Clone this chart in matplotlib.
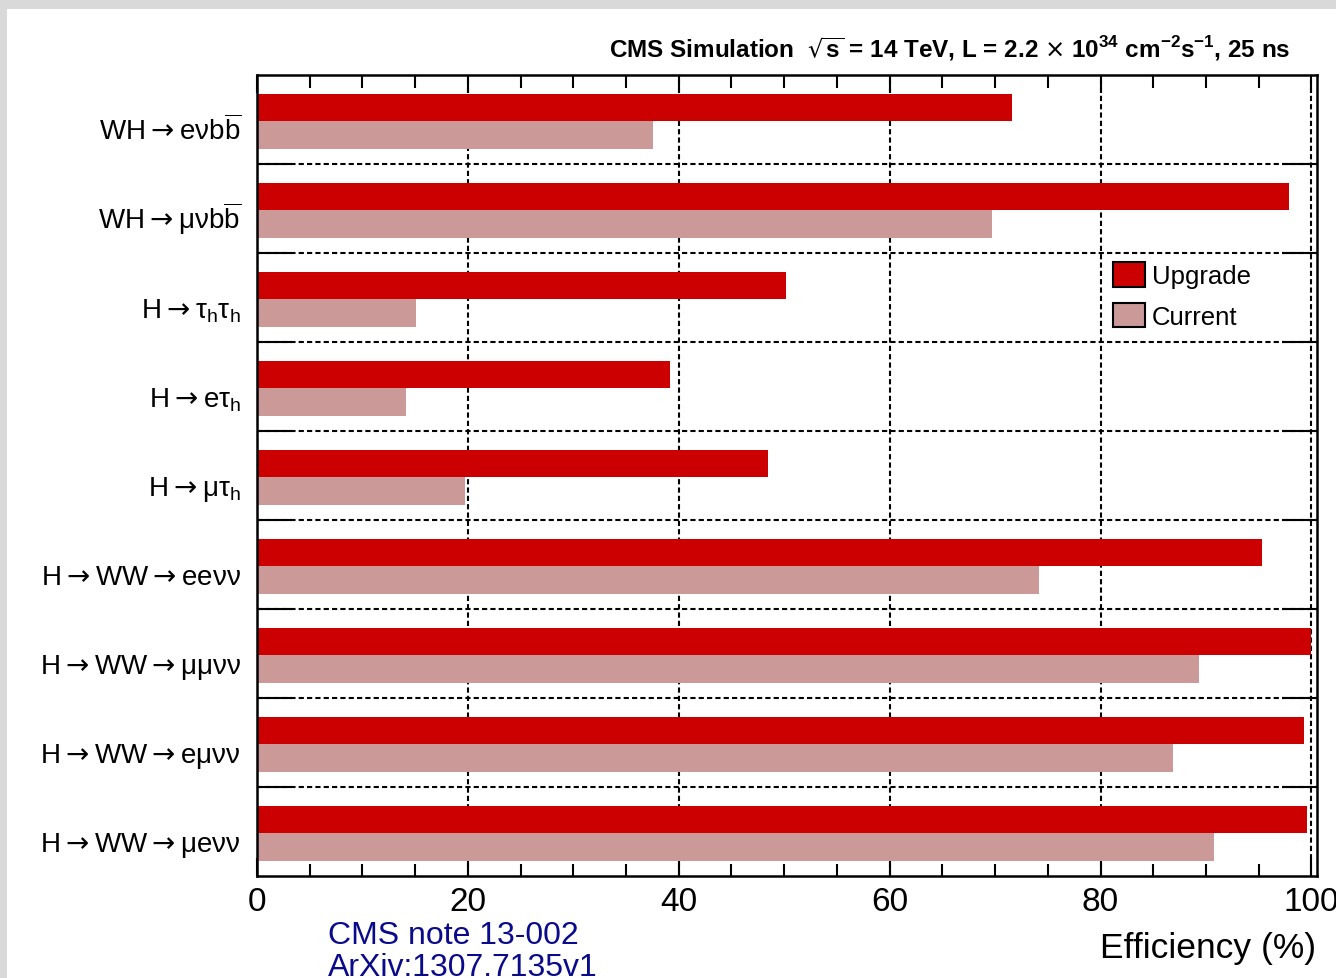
import matplotlib
matplotlib.use("Agg")
import matplotlib.pyplot as plt
from matplotlib.patches import Patch, Rectangle

plt.rcParams["font.family"] = ["Liberation Sans", "DejaVu Sans"]
plt.rcParams["mathtext.fontset"] = "dejavusans"

# decay channels, top to bottom
channels = [
    r"WH$\rightarrow$eνb$\overline{\mathregular{b}}$",
    r"WH$\rightarrow$μνb$\overline{\mathregular{b}}$",
    r"H$\rightarrow$τ$_{\mathregular{h}}$τ$_{\mathregular{h}}$",
    r"H$\rightarrow$eτ$_{\mathregular{h}}$",
    r"H$\rightarrow$μτ$_{\mathregular{h}}$",
    r"H$\rightarrow$WW$\rightarrow$eeνν",
    r"H$\rightarrow$WW$\rightarrow$μμνν",
    r"H$\rightarrow$WW$\rightarrow$eμνν",
    r"H$\rightarrow$WW$\rightarrow$μeνν",
]
# trigger efficiency in %
upgrade = [71.6, 97.9, 50.2, 39.2, 48.5, 95.3, 100.0, 99.3, 99.6]
current = [37.6, 69.7, 15.1, 14.1, 19.7, 74.2, 89.3, 86.9, 90.8]
xticks = [0, 20, 40, 60, 80, 100]

C_UP = "#cc0000"
C_CUR = "#cc9999"

W, H = 1336, 979
fig = plt.figure(figsize=(W / 100, H / 100), dpi=100)
fig.patch.set_facecolor("#d9d9d9")
fig.add_artist(Rectangle((7 / W, 0), 1, 1 - 10 / H, transform=fig.transFigure,
                         facecolor="white", edgecolor="none", zorder=0))

ax = fig.add_axes([257 / W, 1 - 877 / H, (1316.7 - 257) / W, (877 - 76) / H])

rows = list(range(len(channels)))
bh = 0.31
ax.barh([r + 0.365 for r in rows], upgrade, height=bh, color=C_UP, linewidth=0, zorder=2)
ax.barh([r + 0.675 for r in rows], current, height=bh, color=C_CUR, linewidth=0, zorder=2)

ax.set_xlim(0, 100.5)
ax.set_ylim(len(channels), 0)

# separators between channels + vertical grid
dash = (0, (2.5, 1.5))
ax.set_yticks(range(1, len(channels)))
ax.set_xticks(xticks)
ax.set_xticks(range(0, 101, 5), minor=True)
ax.set_axisbelow(True)
ax.grid(True, axis="both", which="major", color="black", lw=1.5, ls=dash)

ax.tick_params(axis="y", direction="in", length=25, width=1.5, left=True, right=True,
               labelleft=False)
ax.tick_params(axis="x", which="major", direction="in", length=13, width=1.5,
               top=True, labelsize=24, pad=7)
ax.tick_params(axis="x", which="minor", direction="in", length=9, width=1.5, top=True)
for s in ax.spines.values():
    s.set_linewidth(1.8)

for r, name in zip(rows, channels):
    ax.text(-0.015, r + 0.72, name, transform=ax.get_yaxis_transform(),
            ha="right", va="baseline", fontsize=20)

leg = ax.legend(handles=[Patch(facecolor=C_UP, edgecolor="black", lw=1.5),
                         Patch(facecolor=C_CUR, edgecolor="black", lw=1.5)],
                labels=["Upgrade", "Current"], loc="upper left",
                bbox_to_anchor=(0.808, 0.766), frameon=False, fontsize=18.5,
                borderpad=0, borderaxespad=0, handlelength=1.25, handleheight=1.09,
                handletextpad=0.25, labelspacing=0.55)

fig.text(1290 / W, 1 - 57 / H,
         r"CMS Simulation  $\sqrt{\mathregular{s}}$ = 14 TeV, L = 2.2 $\times$ 10$^{\mathregular{34}}$ "
         r"cm$^{\mathregular{-2}}$s$^{\mathregular{-1}}$, 25 ns",
         ha="right", va="baseline", fontsize=17.5, fontweight="bold")

fig.text(1316 / W, 1 - 958 / H, "Efficiency (%)", ha="right", va="baseline", fontsize=25.5)

fig.text(328 / W, 1 - 944 / H, "CMS note 13-002", ha="left", va="baseline",
         fontsize=23, color="#0a0a8c")
fig.text(328 / W, 1 - 976 / H, "ArXiv:1307.7135v1", ha="left", va="baseline",
         fontsize=23, color="#0a0a8c")

fig.savefig("out.png", dpi=100)
